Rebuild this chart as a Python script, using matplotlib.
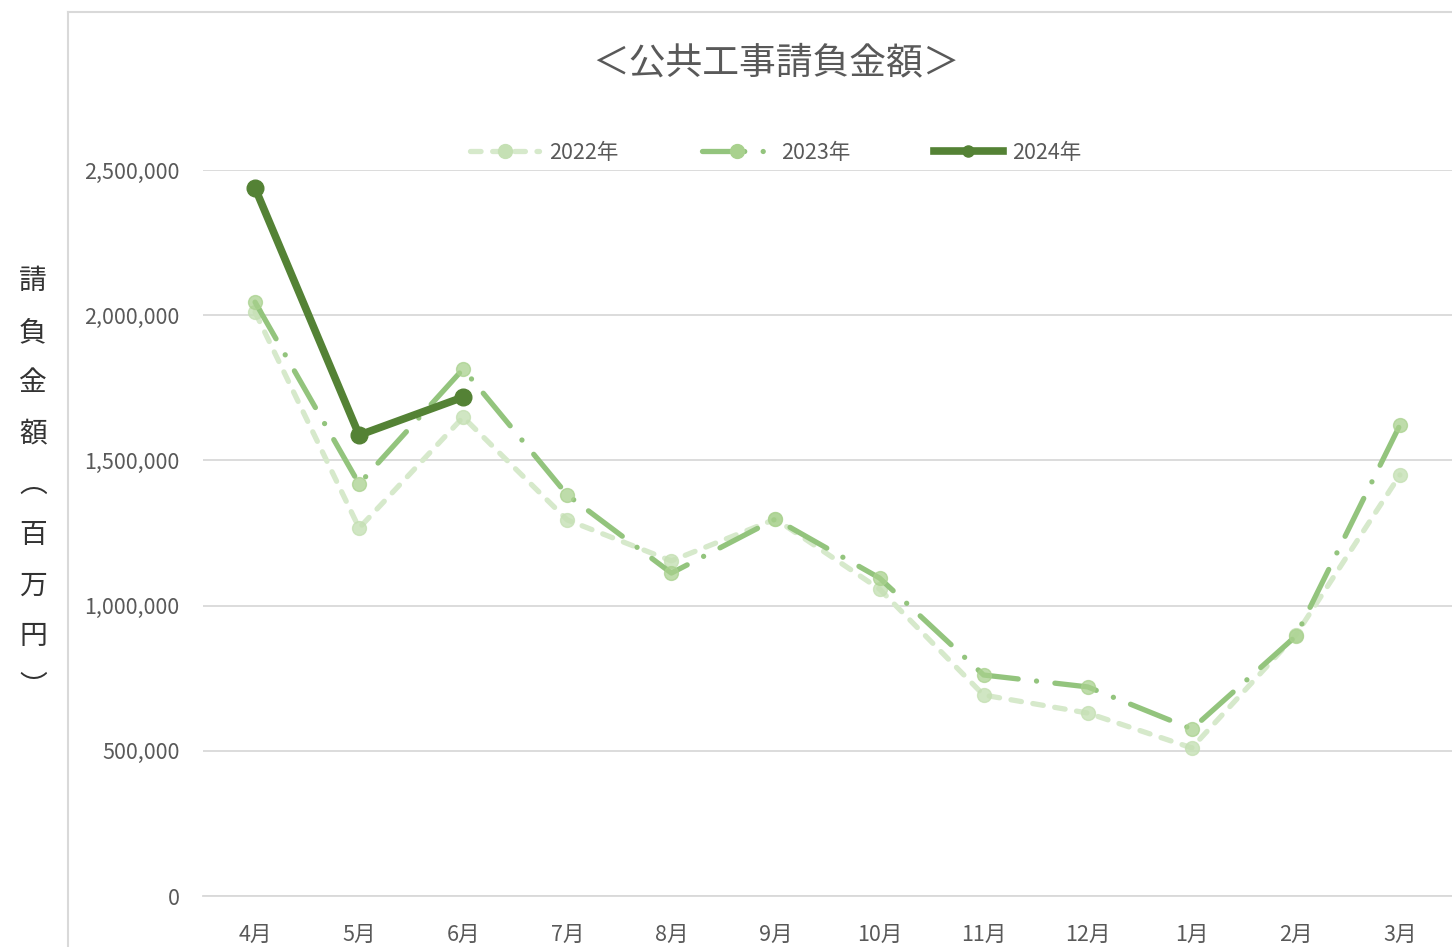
import matplotlib
matplotlib.use("Agg")
import matplotlib.pyplot as plt
from matplotlib.lines import Line2D

plt.rcParams['font.family'] = ['Noto Sans CJK JP', 'DejaVu Sans']

months = ['4月', '5月', '6月', '7月', '8月', '9月', '10月', '11月', '12月', '1月', '2月', '3月']
v2022 = [2011000, 1267000, 1649000, 1295000, 1154000, 1298000, 1057000, 692000, 630000, 510000, 899000, 1450000]
v2023 = [2045000, 1419000, 1815000, 1381000, 1112000, 1298000, 1095000, 761000, 720000, 575000, 895000, 1622000]
v2024 = [2438000, 1587000, 1718000]
yticks = [0, 500000, 1000000, 1500000, 2000000, 2500000]

W, H = 1452, 947
fig = plt.figure(figsize=(W / 100, H / 100), dpi=100)
ax = fig.add_axes([203 / W, 1 - 896 / H, (1452 - 203) / W, (896 - 170) / H])

x = list(range(len(months)))
grey = '#595959'

ax.plot(x, v2022, color='#D6E9CB', lw=3.8, dashes=(2, 2.2), dash_capstyle='round', zorder=3)
ax.plot(x, v2022, ls='none', marker='o', ms=10, mfc='#C5E0B4', mec='#C5E0B4', alpha=0.8, zorder=3)

ax.plot(x, v2023, color='#93C47D', lw=3.8, dashes=(8, 3.5, 0.01, 3.5), dash_capstyle='round', zorder=4)
ax.plot(x, v2023, ls='none', marker='o', ms=10, mfc='#A9D18E', mec='#A9D18E', alpha=0.75, zorder=4)

ax.plot(x[:len(v2024)], v2024, color='#548235', lw=5.5, marker='o', ms=12,
        mfc='#548235', mec='#548235', solid_capstyle='round', zorder=5)

ax.set_xlim(-0.5, len(months) - 0.5)
ax.set_ylim(0, 2500000)
ax.set_yticks(yticks)
ax.set_yticklabels([f'{v:,}' for v in yticks])
ax.set_xticks(x)
ax.set_xticklabels(months)
ax.tick_params(axis='both', length=0, labelsize=15.5, colors=grey)
ax.tick_params(axis='y', pad=17)
ax.tick_params(axis='x', pad=20)
ax.grid(axis='y', color='#D9D9D9', lw=1.3)
ax.set_axisbelow(True)
for s in ['top', 'right', 'left']:
    ax.spines[s].set_visible(False)
ax.spines['bottom'].set_color('#D9D9D9')
ax.spines['bottom'].set_linewidth(1.3)

# legend
h22 = Line2D([], [], color='#D6E9CB', lw=3.8, dashes=(2, 2.2), dash_capstyle='round',
             marker='o', ms=10, mfc='#C5E0B4', mec='#C5E0B4')
h23 = Line2D([], [], color='#93C47D', lw=3.8, dashes=(8, 3.5, 0.01, 3.5), dash_capstyle='round',
             marker='o', ms=10, mfc='#A9D18E', mec='#A9D18E')
h24 = Line2D([], [], color='#548235', lw=5.5, marker='o', ms=8, mfc='#548235', mec='#548235')
fig.legend([h22, h23, h24], ['2022年', '2023年', '2024年'], loc='center',
           bbox_to_anchor=(776 / W, 1 - 153 / H), ncol=3, frameon=False, fontsize=15.5,
           labelcolor=grey, handlelength=3.2, handletextpad=0.45, columnspacing=3.9)

fig.text(776 / W, 1 - 63 / H, '＜公共工事請負金額＞', ha='center', va='center', fontsize=26.5, color=grey)

ylabel = '請負金額︵百万円︶'
fig.text(33 / W, 1 - 484 / H, '\n'.join(ylabel), ha='center', va='center', fontsize=20,
         color='#333333', linespacing=1.9)

# chart border
fig.add_artist(Line2D([68 / W, 68 / W], [0, 1 - 12 / H], color='#D9D9D9', lw=1.5))
fig.add_artist(Line2D([68 / W, 1], [1 - 12 / H, 1 - 12 / H], color='#D9D9D9', lw=1.5))

fig.savefig('out.png', dpi=100)
